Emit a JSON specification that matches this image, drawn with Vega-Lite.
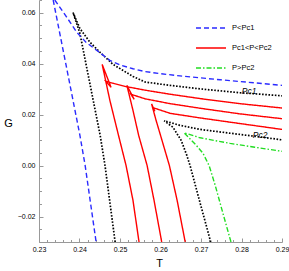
{
  "$schema": "https://vega.github.io/schema/vega-lite/v6.json",
  "width": 243,
  "height": 242,
  "autosize": {"type": "none"},
  "padding": {"left": 39, "top": 0, "right": 7, "bottom": 29},
  "config": {
    "view": {"stroke": null},
    "font": "Liberation Sans",
    "axis": {"domainColor": "#999999", "tickColor": "#999999", "labelColor": "#000000", "labelFontSize": 7, "labelFont": "Liberation Sans", "titleFont": "Liberation Sans", "titleFontWeight": "normal", "titleFontSize": 11, "grid": false, "labelFlush": false, "labelOverlap": false, "labelBound": false}
  },
  "datasets": {
    "curves": [
      {"s": "P<Pc1", "b": "b1", "i": 0, "T": 0.2335, "G": 0.065},
      {"s": "P<Pc1", "b": "b1", "i": 1, "T": 0.2367, "G": 0.0393},
      {"s": "P<Pc1", "b": "b1", "i": 2, "T": 0.2401, "G": 0.0119},
      {"s": "P<Pc1", "b": "b1", "i": 3, "T": 0.2414, "G": 0.0},
      {"s": "P<Pc1", "b": "b1", "i": 4, "T": 0.2441, "G": -0.03},
      {"s": "P<Pc1", "b": "b2", "i": 0, "T": 0.2339, "G": 0.065},
      {"s": "P<Pc1", "b": "b2", "i": 1, "T": 0.2367, "G": 0.0586},
      {"s": "P<Pc1", "b": "b2", "i": 2, "T": 0.2393, "G": 0.0524},
      {"s": "P<Pc1", "b": "b2", "i": 3, "T": 0.2416, "G": 0.0484},
      {"s": "P<Pc1", "b": "b2", "i": 4, "T": 0.2443, "G": 0.0452},
      {"s": "P<Pc1", "b": "b2", "i": 5, "T": 0.2475, "G": 0.0413},
      {"s": "P<Pc1", "b": "b2", "i": 6, "T": 0.25, "G": 0.0395},
      {"s": "P<Pc1", "b": "b2", "i": 7, "T": 0.2532, "G": 0.038},
      {"s": "P<Pc1", "b": "b2", "i": 8, "T": 0.2562, "G": 0.0369},
      {"s": "P<Pc1", "b": "b2", "i": 9, "T": 0.2599, "G": 0.0361},
      {"s": "P<Pc1", "b": "b2", "i": 10, "T": 0.2648, "G": 0.0352},
      {"s": "P<Pc1", "b": "b2", "i": 11, "T": 0.2747, "G": 0.0337},
      {"s": "P<Pc1", "b": "b2", "i": 12, "T": 0.29, "G": 0.0315},
      {"s": "Pc1<P<Pc2", "b": "r1", "i": 0, "T": 0.2547, "G": -0.03},
      {"s": "Pc1<P<Pc2", "b": "r1", "i": 1, "T": 0.2532, "G": -0.0136},
      {"s": "Pc1<P<Pc2", "b": "r1", "i": 2, "T": 0.2515, "G": 0.0},
      {"s": "Pc1<P<Pc2", "b": "r1", "i": 3, "T": 0.2495, "G": 0.0127},
      {"s": "Pc1<P<Pc2", "b": "r1", "i": 4, "T": 0.2475, "G": 0.0256},
      {"s": "Pc1<P<Pc2", "b": "r1", "i": 5, "T": 0.2456, "G": 0.0397},
      {"s": "Pc1<P<Pc2", "b": "r1", "i": 6, "T": 0.2478, "G": 0.0307},
      {"s": "Pc1<P<Pc2", "b": "r1", "i": 7, "T": 0.2465, "G": 0.0331},
      {"s": "Pc1<P<Pc2", "b": "r1", "i": 8, "T": 0.2483, "G": 0.0323},
      {"s": "Pc1<P<Pc2", "b": "r1", "i": 9, "T": 0.2512, "G": 0.0311},
      {"s": "Pc1<P<Pc2", "b": "r1", "i": 10, "T": 0.2562, "G": 0.0296},
      {"s": "Pc1<P<Pc2", "b": "r1", "i": 11, "T": 0.2624, "G": 0.028},
      {"s": "Pc1<P<Pc2", "b": "r1", "i": 12, "T": 0.2698, "G": 0.0263},
      {"s": "Pc1<P<Pc2", "b": "r1", "i": 13, "T": 0.2796, "G": 0.0243},
      {"s": "Pc1<P<Pc2", "b": "r1", "i": 14, "T": 0.29, "G": 0.0226},
      {"s": "Pc1<P<Pc2", "b": "r2", "i": 0, "T": 0.2603, "G": -0.03},
      {"s": "Pc1<P<Pc2", "b": "r2", "i": 1, "T": 0.2584, "G": -0.0136},
      {"s": "Pc1<P<Pc2", "b": "r2", "i": 2, "T": 0.2567, "G": 0.0},
      {"s": "Pc1<P<Pc2", "b": "r2", "i": 3, "T": 0.2546, "G": 0.0119},
      {"s": "Pc1<P<Pc2", "b": "r2", "i": 4, "T": 0.2532, "G": 0.0217},
      {"s": "Pc1<P<Pc2", "b": "r2", "i": 5, "T": 0.2517, "G": 0.0315},
      {"s": "Pc1<P<Pc2", "b": "r2", "i": 6, "T": 0.2535, "G": 0.026},
      {"s": "Pc1<P<Pc2", "b": "r2", "i": 7, "T": 0.2527, "G": 0.028},
      {"s": "Pc1<P<Pc2", "b": "r2", "i": 8, "T": 0.2562, "G": 0.0262},
      {"s": "Pc1<P<Pc2", "b": "r2", "i": 9, "T": 0.2624, "G": 0.0243},
      {"s": "Pc1<P<Pc2", "b": "r2", "i": 10, "T": 0.2698, "G": 0.0225},
      {"s": "Pc1<P<Pc2", "b": "r2", "i": 11, "T": 0.2796, "G": 0.0203},
      {"s": "Pc1<P<Pc2", "b": "r2", "i": 12, "T": 0.29, "G": 0.0184},
      {"s": "Pc1<P<Pc2", "b": "r3", "i": 0, "T": 0.2661, "G": -0.03},
      {"s": "Pc1<P<Pc2", "b": "r3", "i": 1, "T": 0.2641, "G": -0.0136},
      {"s": "Pc1<P<Pc2", "b": "r3", "i": 2, "T": 0.2622, "G": 0.0},
      {"s": "Pc1<P<Pc2", "b": "r3", "i": 3, "T": 0.26, "G": 0.0119},
      {"s": "Pc1<P<Pc2", "b": "r3", "i": 4, "T": 0.2589, "G": 0.0178},
      {"s": "Pc1<P<Pc2", "b": "r3", "i": 5, "T": 0.2578, "G": 0.0242},
      {"s": "Pc1<P<Pc2", "b": "r3", "i": 6, "T": 0.2586, "G": 0.0213},
      {"s": "Pc1<P<Pc2", "b": "r3", "i": 7, "T": 0.2582, "G": 0.0227},
      {"s": "Pc1<P<Pc2", "b": "r3", "i": 8, "T": 0.2624, "G": 0.0205},
      {"s": "Pc1<P<Pc2", "b": "r3", "i": 9, "T": 0.2698, "G": 0.0187},
      {"s": "Pc1<P<Pc2", "b": "r3", "i": 10, "T": 0.2796, "G": 0.0165},
      {"s": "Pc1<P<Pc2", "b": "r3", "i": 11, "T": 0.29, "G": 0.0142},
      {"s": "P>Pc2", "b": "g1", "i": 0, "T": 0.2774, "G": -0.03},
      {"s": "P>Pc2", "b": "g1", "i": 1, "T": 0.2752, "G": -0.0175},
      {"s": "P>Pc2", "b": "g1", "i": 2, "T": 0.2735, "G": -0.0077},
      {"s": "P>Pc2", "b": "g1", "i": 3, "T": 0.272, "G": 0.0},
      {"s": "P>Pc2", "b": "g1", "i": 4, "T": 0.2705, "G": 0.0048},
      {"s": "P>Pc2", "b": "g1", "i": 5, "T": 0.2688, "G": 0.008},
      {"s": "P>Pc2", "b": "g1", "i": 6, "T": 0.2658, "G": 0.0129},
      {"s": "P>Pc2", "b": "g1", "i": 7, "T": 0.2698, "G": 0.0109},
      {"s": "P>Pc2", "b": "g1", "i": 8, "T": 0.2772, "G": 0.0087},
      {"s": "P>Pc2", "b": "g1", "i": 9, "T": 0.2833, "G": 0.0072},
      {"s": "P>Pc2", "b": "g1", "i": 10, "T": 0.29, "G": 0.0056}
    ],
    "critical": [
      {"b": "c1", "i": 0, "T": 0.2488, "G": -0.03},
      {"b": "c1", "i": 1, "T": 0.2463, "G": 0.0},
      {"b": "c1", "i": 2, "T": 0.2451, "G": 0.0119},
      {"b": "c1", "i": 3, "T": 0.2426, "G": 0.0319},
      {"b": "c1", "i": 4, "T": 0.2401, "G": 0.0519},
      {"b": "c1", "i": 5, "T": 0.2384, "G": 0.0601},
      {"b": "c1", "i": 6, "T": 0.2401, "G": 0.0538},
      {"b": "c1", "i": 7, "T": 0.2426, "G": 0.0484},
      {"b": "c1", "i": 8, "T": 0.2451, "G": 0.0444},
      {"b": "c1", "i": 9, "T": 0.2483, "G": 0.0397},
      {"b": "c1", "i": 10, "T": 0.2532, "G": 0.035},
      {"b": "c1", "i": 11, "T": 0.2562, "G": 0.0328},
      {"b": "c1", "i": 12, "T": 0.2623, "G": 0.0315},
      {"b": "c1", "i": 13, "T": 0.2698, "G": 0.0301},
      {"b": "c1", "i": 14, "T": 0.2796, "G": 0.0286},
      {"b": "c1", "i": 15, "T": 0.29, "G": 0.0274},
      {"b": "c2", "i": 0, "T": 0.2724, "G": -0.03},
      {"b": "c2", "i": 1, "T": 0.2698, "G": -0.0148},
      {"b": "c2", "i": 2, "T": 0.2673, "G": 0.0},
      {"b": "c2", "i": 3, "T": 0.2665, "G": 0.004},
      {"b": "c2", "i": 4, "T": 0.2651, "G": 0.0099},
      {"b": "c2", "i": 5, "T": 0.2631, "G": 0.015},
      {"b": "c2", "i": 6, "T": 0.2609, "G": 0.0176},
      {"b": "c2", "i": 7, "T": 0.2648, "G": 0.0158},
      {"b": "c2", "i": 8, "T": 0.2698, "G": 0.0142},
      {"b": "c2", "i": 9, "T": 0.2772, "G": 0.0127},
      {"b": "c2", "i": 10, "T": 0.2833, "G": 0.0115},
      {"b": "c2", "i": 11, "T": 0.29, "G": 0.0101}
    ],
    "labels": [
      {"T": 0.2819, "G": 0.0291, "label": "Pc1"},
      {"T": 0.2846, "G": 0.0119, "label": "Pc2"}
    ]
  },
  "encoding": {
    "x": {"field": "T", "type": "quantitative", "scale": {"domain": [0.23, 0.29], "nice": false, "zero": false},
      "axis": {"title": "T", "titleAngle": 0, "titleX": 120, "titleY": 21, "titleBaseline": "middle", "titleAlign": "center",
        "values": [0.23,0.232,0.234,0.236,0.238,0.24,0.242,0.244,0.246,0.248,0.25,0.252,0.254,0.256,0.258,0.26,0.262,0.264,0.266,0.268,0.27,0.272,0.274,0.276,0.278,0.28,0.282,0.284,0.286,0.288,0.29],
        "labelExpr": "abs(datum.value*100 - round(datum.value*100)) < 0.000001 ? format(datum.value, '.2f') : ''",
        "tickSize": {"condition": {"test": "abs(datum.value*100 - round(datum.value*100)) < 0.000001", "value": -4}, "value": -2.5},
        "labelPadding": 7}},
    "y": {"field": "G", "type": "quantitative", "scale": {"domain": [-0.03, 0.065], "nice": false, "zero": false},
      "axis": {"title": "G", "titleAngle": 0, "titleX": -31, "titleY": 123, "titleBaseline": "middle", "titleAlign": "center",
        "values": [-0.03,-0.025,-0.02,-0.015,-0.01,-0.005,0,0.005,0.01,0.015,0.02,0.025,0.03,0.035,0.04,0.045,0.05,0.055,0.06,0.065],
        "labelExpr": "abs(datum.value*50 - round(datum.value*50)) < 0.000001 ? format(datum.value, '.2f') : ''",
        "tickSize": {"condition": {"test": "abs(datum.value*50 - round(datum.value*50)) < 0.000001", "value": -4}, "value": -2.5},
        "labelPadding": 8}}
  },
  "layer": [
    {
      "mark": {"type": "rule", "color": "#777777", "strokeWidth": 1},
      "encoding": {"x": null, "y": {"datum": 0}}
    },
    {
      "data": {"name": "critical"},
      "mark": {"type": "line", "color": "#000000", "strokeWidth": 1.7, "strokeDash": [1.6, 1.6], "clip": true},
      "encoding": {"detail": {"field": "b"}, "order": {"field": "i", "type": "quantitative"}}
    },
    {
      "data": {"name": "curves"},
      "mark": {"type": "line", "strokeWidth": 1.4, "clip": true},
      "encoding": {
        "detail": {"field": "b"},
        "order": {"field": "i", "type": "quantitative"},
        "color": {"field": "s", "type": "nominal", "scale": {"domain": ["P<Pc1", "Pc1<P<Pc2", "P>Pc2"], "range": ["#2a2aff", "#ff0000", "#22dd22"]},
          "legend": {"title": null, "orient": "none", "legendX": 156, "legendY": 12, "symbolType": "stroke", "symbolSize": 900, "symbolStrokeWidth": 1.5, "labelFontSize": 7.5, "rowPadding": -15, "labelOffset": 5}},
        "strokeDash": {"field": "s", "type": "nominal", "scale": {"domain": ["P<Pc1", "Pc1<P<Pc2", "P>Pc2"], "range": [[5, 3], [1, 0], [5, 2, 1.5, 2]]}}
      }
    },
    {
      "data": {"name": "labels"},
      "mark": {"type": "text", "fontSize": 8.5, "fontStyle": "italic", "color": "#000000"},
      "encoding": {"text": {"field": "label"}}
    }
  ]
}
